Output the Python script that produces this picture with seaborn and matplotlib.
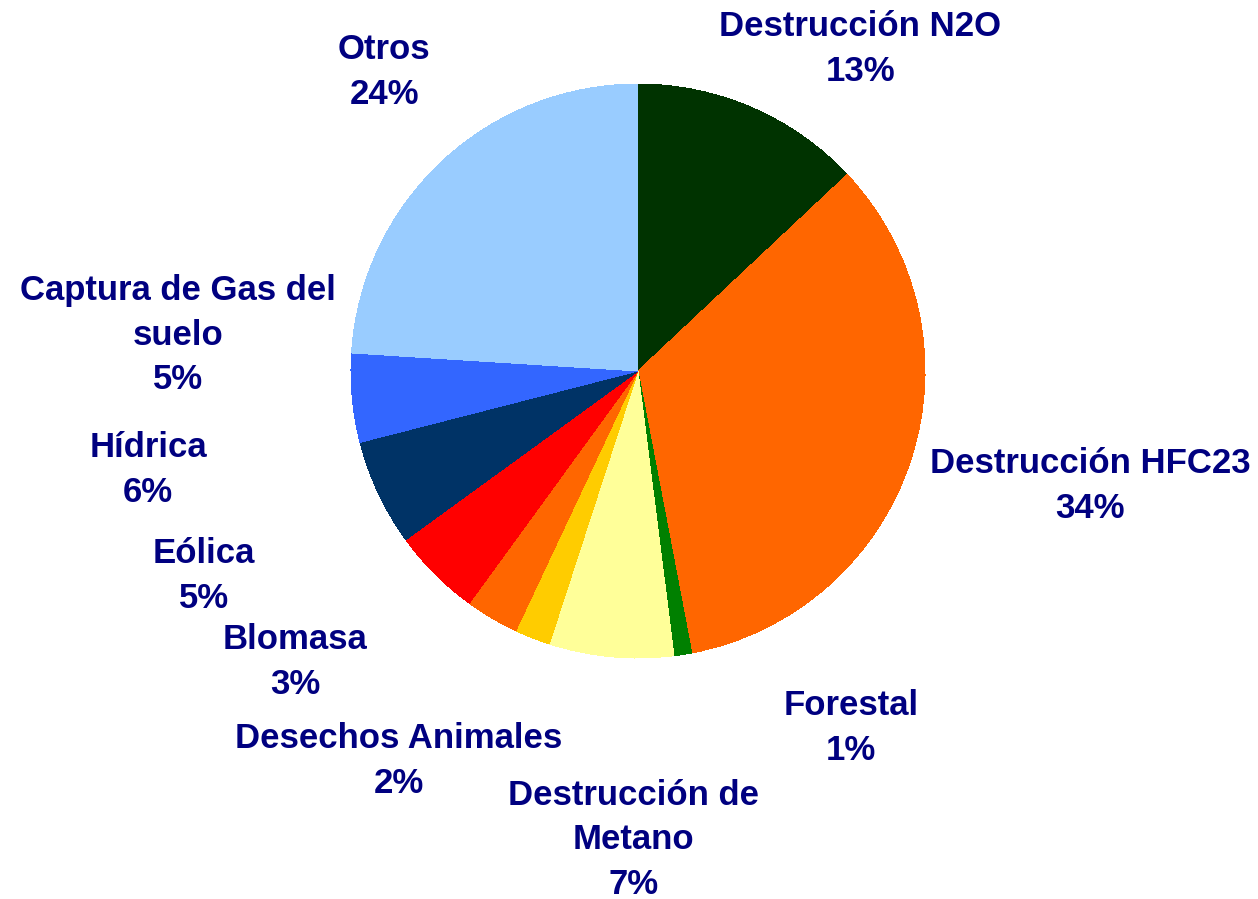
import matplotlib
matplotlib.use("Agg")
import matplotlib.pyplot as plt
import seaborn as sns

sns.set_theme(style="white")
plt.rcParams['font.family'] = ['Liberation Sans', 'DejaVu Sans']

categories = ["Destrucción N2O", "Destrucción HFC23", "Forestal", "Destrucción de\nMetano",
              "Desechos Animales", "Blomasa", "Eólica", "Hídrica",
              "Captura de Gas del\nsuelo", "Otros"]
values = [13, 34, 1, 7, 2, 3, 5, 6, 5, 24]
pct_labels = ["13%", "34%", "1%", "7%", "2%", "3%", "5%", "6%", "5%", "24%"]

colors = ["#003300", "#FF6600", "#008000", "#FFFF99", "#FFCC00",
          "#FF6600", "#FF0000", "#003366", "#3366FF", "#99CCFF"]

# label centre positions (in pie radius units)
label_pos = [(0.774, 1.122), (1.575, -0.401), (0.742, -1.244), (-0.017, -1.634),
             (-0.833, -1.359), (-1.195, -1.014), (-1.512, -0.714), (-1.707, -0.345),
             (-1.603, 0.125), (-0.885, 1.042)]

fig = plt.figure(figsize=(12.58, 8.99), dpi=100)
ax = fig.add_axes([0, 0, 1, 1])
ax.pie(values, colors=colors, startangle=90, counterclock=False, radius=1.0,
       wedgeprops=dict(linewidth=0, antialiased=False))
ax.set_xlim(-638 / 287, (1258 - 638) / 287)
ax.set_ylim(-528 / 287, 371 / 287)
ax.set_aspect('auto')
ax.axis('off')

for cat, pct, (x, y) in zip(categories, pct_labels, label_pos):
    ax.text(x, y, f"{cat}\n{pct}", ha='center', va='center', fontsize=25,
            fontweight='bold', color='#000080', linespacing=1.45)

fig.savefig("out.png", dpi=100, facecolor='white')
